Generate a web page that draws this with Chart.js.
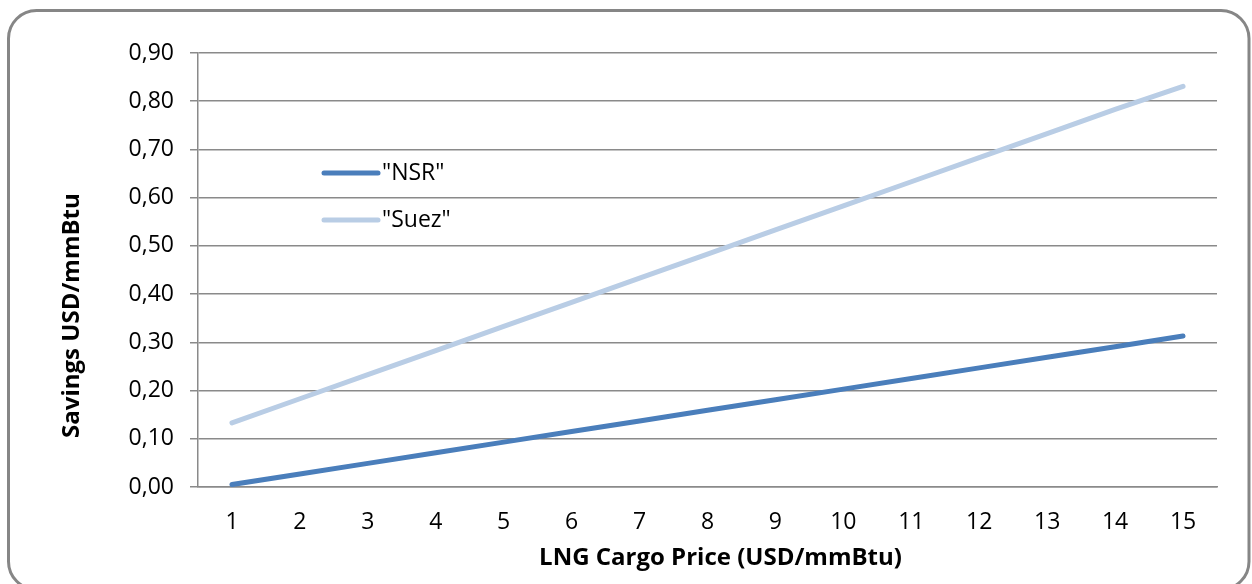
<!DOCTYPE html>
<html>
<head>
<meta charset="utf-8">
<script src="https://cdn.jsdelivr.net/npm/chart.js@4.4.1/dist/chart.umd.min.js"></script>
<style>
  html, body { margin: 0; padding: 0; background: #ffffff; }
  #wrap { width: 1252px; height: 584px; position: relative; }
</style>
</head>
<body>
<div id="wrap"><canvas id="c" width="1252" height="584"></canvas></div>
<script>
// LNG cargo price (USD/mmBtu) on the category axis
const categories = ['1','2','3','4','5','6','7','8','9','10','11','12','13','14','15'];
// Savings per route, USD/mmBtu
const nsrSavings  = [0.005, 0.027, 0.049, 0.071, 0.093, 0.115, 0.137, 0.159, 0.181, 0.203, 0.225, 0.247, 0.269, 0.291, 0.313];
const suezSavings = [0.133, 0.183, 0.233, 0.283, 0.333, 0.383, 0.433, 0.483, 0.533, 0.583, 0.633, 0.683, 0.733, 0.783, 0.831];
const seriesNames = ['"NSR"', '"Suez"'];
const xTitle = 'LNG Cargo Price (USD/mmBtu)';
const yTitle = 'Savings USD/mmBtu';

const FONT = "'Open Sans', 'Noto Sans', sans-serif";
const GRID = '#8a8a8a';
const NSR_COLOR = '#4a7ebb';
const SUEZ_COLOR = '#b9cde5';

// Rounded frame, axis titles and the in-plot legend
const decorations = {
  id: 'decorations',
  beforeDraw(chart) {
    const ctx = chart.ctx;
    ctx.save();
    ctx.fillStyle = '#ffffff';
    ctx.fillRect(0, 0, chart.width, chart.height);
    ctx.strokeStyle = '#868686';
    ctx.lineWidth = 3;
    ctx.beginPath();
    ctx.roundRect(8.5, 10.5, 1240.5, 579, 28);
    ctx.stroke();
    ctx.restore();
  },
  afterDraw(chart) {
    const ctx = chart.ctx;
    const a = chart.chartArea;
    ctx.save();
    ctx.fillStyle = '#000000';
    ctx.font = "bold 24px " + FONT;
    ctx.textAlign = 'center';
    ctx.textBaseline = 'middle';
    // x axis title
    ctx.fillText(xTitle, (a.left + a.right) / 2 + 13, a.bottom + 71);
    // y axis title, rotated
    ctx.save();
    ctx.translate(a.left - 126, a.top + (a.bottom - a.top) * 0.605);
    ctx.rotate(-Math.PI / 2);
    ctx.fillText(yTitle, 0, 0);
    ctx.restore();

    // legend inside the plot
    ctx.font = "23px " + FONT;
    ctx.textAlign = 'left';
    chart.data.datasets.forEach((ds, i) => {
      const y = a.top + 120 + i * 47;
      const x0 = a.left + 126;
      ctx.strokeStyle = ds.borderColor;
      ctx.lineWidth = ds.borderWidth;
      ctx.lineCap = 'round';
      ctx.beginPath();
      ctx.moveTo(x0, y);
      ctx.lineTo(x0 + 54, y);
      ctx.stroke();
      ctx.fillText(ds.label, x0 + 58, y);
    });
    ctx.restore();
  }
};

new Chart(document.getElementById('c'), {
  type: 'line',
  data: {
    labels: categories,
    datasets: [
      { label: seriesNames[0], data: nsrSavings, borderColor: NSR_COLOR, backgroundColor: NSR_COLOR,
        borderWidth: 5, pointRadius: 0, borderCapStyle: 'round', tension: 0 },
      { label: seriesNames[1], data: suezSavings, borderColor: SUEZ_COLOR, backgroundColor: SUEZ_COLOR,
        borderWidth: 5, pointRadius: 0, borderCapStyle: 'round', tension: 0 }
    ]
  },
  options: {
    responsive: false,
    animation: false,
    devicePixelRatio: 1,
    layout: { padding: { left: 98, right: 35, top: 53, bottom: 37 } },
    plugins: {
      legend: { display: false },
      tooltip: { enabled: false },
      title: { display: false }
    },
    scales: {
      x: {
        offset: true,
        grid: { display: false, drawTicks: false },
        border: { display: true, color: GRID, width: 1.5 },
        ticks: { color: '#000', font: { family: FONT, size: 23 }, padding: 22, maxRotation: 0, autoSkip: false },
        afterFit(scale) { scale.height = 60; }
      },
      y: {
        min: 0,
        max: 0.9,
        ticks: {
          stepSize: 0.1,
          color: '#000',
          font: { family: FONT, size: 23 },
          padding: 16,
          callback: (v) => Number(v).toFixed(2).replace('.', ',')
        },
        grid: { color: GRID, lineWidth: 1.5, tickLength: 8, drawTicks: true },
        border: { display: true, color: GRID, width: 1.5 },
        afterFit(scale) { scale.width = 100; }
      }
    }
  },
  plugins: [decorations]
});
</script>
</body>
</html>
